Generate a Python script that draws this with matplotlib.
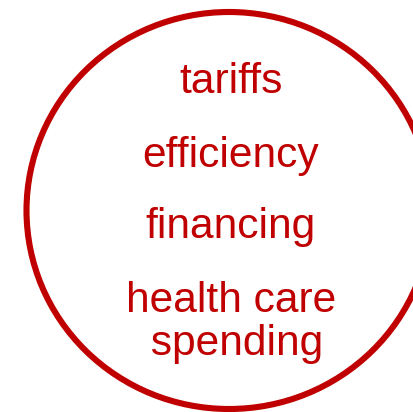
import matplotlib
matplotlib.use("Agg")
import matplotlib.pyplot as plt
import matplotlib.patches as mpatches

# words shown inside the circle, top to bottom
labels = ["tariffs", "efficiency", "financing", "health care", " spending"]

RED = "#C00000"

# layout (pixel coords, y down)
label_x = [231, 231, 230, 231, 231]
label_y = [93, 167, 238, 312, 355]

plt.rcParams["font.family"] = ["Liberation Sans", "DejaVu Sans"]

fig = plt.figure(figsize=(4.13, 4.12), dpi=100)
ax = fig.add_axes([0, 0, 1, 1])
ax.set_xlim(0, 413)
ax.set_ylim(412, 0)
ax.axis("off")

ring = mpatches.Ellipse((229, 210.5), 405, 397, fill=False,
                        edgecolor=RED, linewidth=4.4)
ax.add_patch(ring)

for txt, x, y in zip(labels, label_x, label_y):
    ax.text(x, y, txt, color=RED, fontsize=30.6, ha="center", va="baseline")

fig.savefig("out.png", dpi=100)
